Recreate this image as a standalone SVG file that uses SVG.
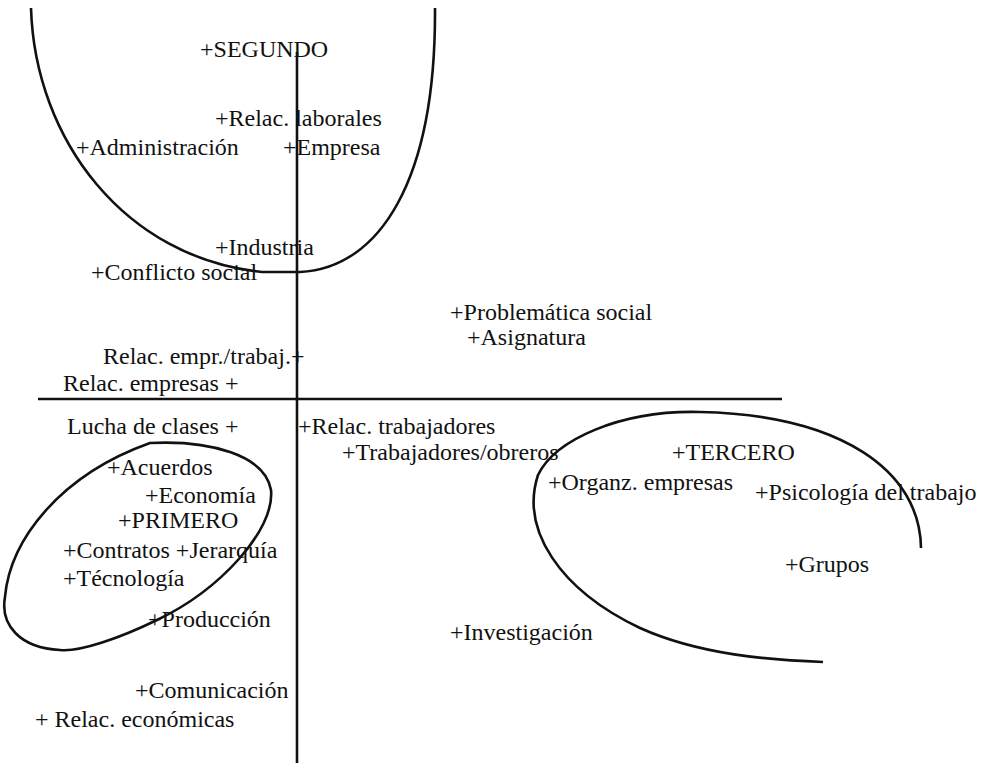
<svg xmlns="http://www.w3.org/2000/svg" width="993" height="763" viewBox="0 0 993 763">
<style>
.lb{font-family:"Liberation Serif","Times New Roman",serif;font-size:24px;fill:#111;}
.ln{fill:none;stroke:#111;stroke-width:2.6;stroke-linecap:butt;}
</style>
<rect width="993" height="763" fill="#fff"/>
<g id="lines">
<path class="ln" d="M297,52 L297,763"/>
<path class="ln" d="M38,399 L782,399"/>
<path class="ln" d="M31,8 C35,140 125,258 262,272 L300,272 C380,268 436,180 435,8"/>
<path class="ln" d="M150,443 C210,440 265,455 271,490 C275,530 220,590 157,620 C120,638 80,652 60,650 C20,648 0,625 5,597 C10,540 60,475 150,443 Z"/>
<path class="ln" d="M921,548 C920,470 840,415 700,412 C620,410 555,440 538,475 C520,530 560,590 640,628 C700,655 770,660 823,662"/>
</g>
<g class="lb" font-family="Liberation Serif, Times New Roman, serif" font-size="24" fill="#111">
<g id="segundo"><text x="200" y="57">+SEGUNDO</text></g>
<g id="relac-laborales"><text x="215" y="126">+Relac. laborales</text></g>
<g id="administracion"><text x="76" y="155">+Administración</text></g>
<g id="empresa"><text x="283" y="155">+Empresa</text></g>
<g id="industria"><text x="215" y="255">+Industria</text></g>
<g id="conflicto-social"><text x="91" y="280">+Conflicto social</text></g>
<g id="problematica-social"><text x="450" y="320">+Problemática social</text></g>
<g id="asignatura"><text x="467" y="345">+Asignatura</text></g>
<g id="relac-empr-trabaj"><text x="103" y="364">Relac. empr./trabaj.+</text></g>
<g id="relac-empresas"><text x="63" y="391">Relac. empresas +</text></g>
<g id="lucha-de-clases"><text x="67" y="434">Lucha de clases +</text></g>
<g id="relac-trabajadores"><text x="298" y="434">+Relac. trabajadores</text></g>
<g id="trabajadores-obreros"><text x="342" y="460">+Trabajadores/obreros</text></g>
<g id="tercero"><text x="672" y="460">+TERCERO</text></g>
<g id="organz-empresas"><text x="548" y="490">+Organz. empresas</text></g>
<g id="psicologia"><text x="755" y="500">+Psicología del trabajo</text></g>
<g id="grupos"><text x="785" y="572">+Grupos</text></g>
<g id="investigacion"><text x="450" y="640">+Investigación</text></g>
<g id="acuerdos"><text x="107" y="475">+Acuerdos</text></g>
<g id="economia"><text x="145" y="503">+Economía</text></g>
<g id="primero"><text x="118" y="528">+PRIMERO</text></g>
<g id="contratos-jerarquia"><text x="63" y="558">+Contratos +Jerarquía</text></g>
<g id="tecnologia"><text x="63" y="586">+Técnología</text></g>
<g id="produccion"><text x="148" y="627">+Producción</text></g>
<g id="comunicacion"><text x="135" y="698">+Comunicación</text></g>
<g id="relac-economicas"><text x="35" y="727">+ Relac. económicas</text></g>
</g>
</svg>
